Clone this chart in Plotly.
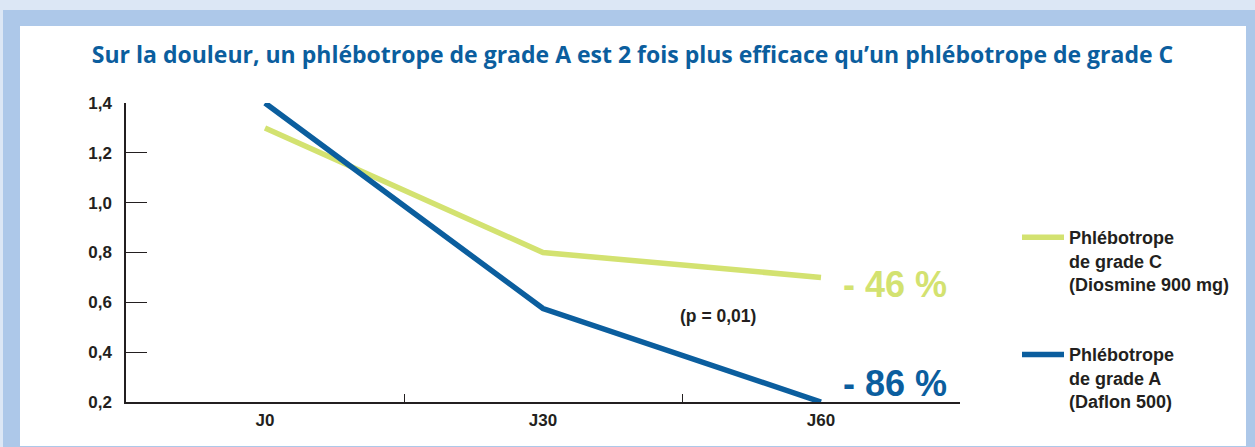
import plotly.graph_objects as go

# ---- data ----
categories = ["J0", "J30", "J60"]
grade_c = [1.3, 0.8, 0.7]      # Phlébotrope de grade C (Diosmine 900 mg)
grade_a = [1.4, 0.575, 0.2]    # Phlébotrope de grade A (Daflon 500)
name_c = "Phlébotrope<br>de grade C<br>(Diosmine 900 mg)"
name_a = "Phlébotrope<br>de grade A<br>(Daflon 500)"
label_c = "- 46 %"
label_a = "- 86 %"
p_label = "(p = 0,01)"
y_ticks = [0.2, 0.4, 0.6, 0.8, 1.0, 1.2, 1.4]
title = "Sur la douleur, un phlébotrope de grade A est 2 fois plus efficace qu’un phlébotrope de grade C"

# ---- style ----
W, H = 1255, 447
L, R, T, B = 126, 960, 103, 402
BLUE = "#0b5e9e"
GREEN = "#d3e270"
DARK = "#231f20"
LIGHT_BG = "#dce7f5"
MID_BG = "#adc8e9"
FONT = "Liberation Sans"


def px_x(px):
    return (px - L) / (R - L)


def px_y(py):
    return (B - py) / (B - T)


fig = go.Figure()
fig.add_trace(go.Scatter(x=categories, y=grade_c, mode="lines", name=name_c,
                         legendgroup="c",
                         line=dict(color=GREEN, width=5.5)))
fig.add_trace(go.Scatter(x=categories, y=grade_a, mode="lines", name=name_a,
                         legendgroup="a",
                         line=dict(color=BLUE, width=5.5)))

shapes = [
    dict(type="rect", xref="paper", yref="paper", x0=px_x(0), x1=px_x(W), y0=px_y(10), y1=px_y(0),
         fillcolor=LIGHT_BG, line_width=0, layer="below"),
    dict(type="rect", xref="paper", yref="paper", x0=px_x(0), x1=px_x(3), y0=px_y(H), y1=px_y(0),
         fillcolor=LIGHT_BG, line_width=0, layer="below"),
    dict(type="rect", xref="paper", yref="paper", x0=px_x(20), x1=px_x(1246), y0=px_y(446), y1=px_y(26),
         fillcolor="white", line_width=0, layer="below"),
]

annotations = [
    dict(x=2, y=grade_c[2], xref="x", yref="y", text=f"<b>{label_c}</b>", showarrow=False,
         xanchor="center", yanchor="middle", xshift=74, yshift=-7,
         font=dict(family=FONT, size=36, color=GREEN)),
    dict(x=2, y=grade_a[2], xref="x", yref="y", text=f"<b>{label_a}</b>", showarrow=False,
         xanchor="center", yanchor="middle", xshift=74, yshift=19,
         font=dict(family=FONT, size=36, color=BLUE)),
    dict(x=px_x(718), y=px_y(316), xref="paper", yref="paper", text=f"<b>{p_label}</b>", showarrow=False,
         xanchor="center", yanchor="middle",
         font=dict(family=FONT, size=17.5, color=DARK)),
]

fig.update_layout(
    width=W, height=H,
    margin=dict(l=L, r=W - R, t=T, b=H - B, pad=0),
    paper_bgcolor=MID_BG,
    plot_bgcolor="rgba(0,0,0,0)",
    separators=",.",
    title=dict(text=f"<b>{title}</b>", xref="container", yref="container",
               x=0.504, xanchor="center", y=1 - 55 / H, yanchor="middle",
               font=dict(family="Open Sans", size=23, color=BLUE)),
    showlegend=True,
    legend=dict(x=1017 / W, xref="container", y=1 - 219 / H, yref="container",
                xanchor="left", yanchor="top", valign="top", itemwidth=42,
                tracegroupgap=44, bgcolor="rgba(0,0,0,0)",
                font=dict(family=FONT, size=18, color=DARK, weight="bold")),
    xaxis=dict(type="category", range=[-0.5, 2.5], tickson="boundaries",
               ticks="inside", ticklen=8, tickwidth=1.3, tickcolor=DARK,
               showline=True, linecolor=DARK, linewidth=1.5, showgrid=False, zeroline=False,
               ticklabelstandoff=2,
               tickfont=dict(family=FONT, size=17, color=DARK, weight="bold")),
    yaxis=dict(range=[0.2, 1.4], tickvals=y_ticks, tickformat=".1f",
               ticks="inside", ticklen=21, tickwidth=1.3, tickcolor=DARK,
               showline=True, linecolor=DARK, linewidth=1.5, showgrid=False, zeroline=False,
               ticklabelstandoff=9,
               tickfont=dict(family=FONT, size=17, color=DARK, weight="bold")),
    shapes=shapes,
    annotations=annotations,
)

fig.write_html("out.html", config={"displayModeBar": False},
               post_script="document.body.style.margin='0';document.body.style.overflow='hidden';")
